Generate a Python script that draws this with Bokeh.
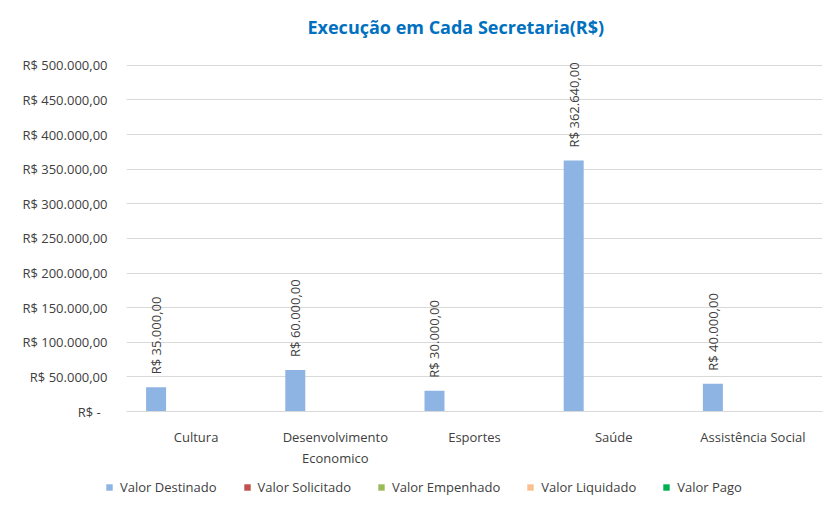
from math import pi
from bokeh.plotting import figure
from bokeh.layouts import column
from bokeh.models import ColumnDataSource, FactorRange, Range1d, FixedTicker, Legend, LegendItem
from bokeh.transform import dodge
from bokeh.core.properties import value
from bokeh.embed import file_html
from bokeh.resources import INLINE

categories = ["Cultura", "Desenvolvimento\nEconomico", "Esportes", "Saúde", "Assistência Social"]
series_names = ["Valor Destinado", "Valor Solicitado", "Valor Empenhado", "Valor Liquidado", "Valor Pago"]
valor_destinado = [35000, 60000, 30000, 362640, 40000]
valor_solicitado = [0, 0, 0, 0, 0]
valor_empenhado = [0, 0, 0, 0, 0]
valor_liquidado = [0, 0, 0, 0, 0]
valor_pago = [0, 0, 0, 0, 0]
destinado_labels = ["R$ 35.000,00", "R$ 60.000,00", "R$ 30.000,00", "R$ 362.640,00", "R$ 40.000,00"]
y_ticks = [0, 50000, 100000, 150000, 200000, 250000, 300000, 350000, 400000, 450000, 500000]
y_tick_labels = ["R$ -\u00a0\u00a0", "R$ 50.000,00", "R$ 100.000,00", "R$ 150.000,00", "R$ 200.000,00",
                 "R$ 250.000,00", "R$ 300.000,00", "R$ 350.000,00", "R$ 400.000,00", "R$ 450.000,00",
                 "R$ 500.000,00"]
colors = ["#8EB4E3", "#C0504D", "#9BBB59", "#FAC090", "#00B050"]

FONT = "Open Sans"
TXT = "#404040"

src = ColumnDataSource(dict(
    cat=categories,
    destinado=valor_destinado,
    solicitado=valor_solicitado,
    empenhado=valor_empenhado,
    liquidado=valor_liquidado,
    pago=valor_pago,
    lbl=destinado_labels,
))
cols = ["destinado", "solicitado", "empenhado", "liquidado", "pago"]

p = figure(x_range=FactorRange(*categories), y_range=Range1d(0, 525640),
           width=835, height=470, output_backend="svg", toolbar_location=None,
           min_border_left=126, min_border_right=13, min_border_top=47, min_border_bottom=54)
p.frame_align = False
p.outline_line_color = None
p.background_fill_color = "white"
p.border_fill_color = "white"

p.title.text = "Execução em Cada Secretaria(R$)"
p.title.align = "left"
p.title.offset = 181
p.title.standoff = 18
p.title.text_font = FONT
p.title.text_font_style = "bold"
p.title.text_font_size = "18px"
p.title.text_color = "#0070C0"

bw = 0.1437
offsets = [-2 * bw, -bw, 0, bw, 2 * bw]
for col, off, c in zip(cols, offsets, colors):
    p.vbar(x=dodge("cat", off, range=p.x_range), top=col, width=bw, source=src,
           fill_color=c, line_color=None)

p.text(x=dodge("cat", offsets[0], range=p.x_range), y="destinado", text="lbl", source=src,
       angle=pi / 2, text_align="left", text_baseline="middle", y_offset=-13,
       text_font=value(FONT), text_font_size="13px", text_color=TXT)

ticker = FixedTicker(ticks=y_ticks)
p.yaxis.ticker = ticker
p.yaxis.major_label_overrides = {t: l for t, l in zip(y_ticks, y_tick_labels)}
p.yaxis.axis_line_color = None
p.yaxis.major_tick_line_color = None
p.yaxis.minor_tick_line_color = None
p.yaxis.major_label_standoff = 13
p.yaxis.major_label_text_font = FONT
p.yaxis.major_label_text_font_size = "13px"
p.yaxis.major_label_text_color = TXT

p.ygrid.ticker = ticker
p.ygrid.grid_line_color = "#d9d9d9"
p.xgrid.grid_line_color = None

p.xaxis.axis_line_color = "#d9d9d9"
p.xaxis.major_tick_line_color = None
p.xaxis.minor_tick_line_color = None
p.xaxis.major_label_standoff = 10
p.xaxis.major_label_text_font = FONT
p.xaxis.major_label_text_font_size = "13px"
p.xaxis.major_label_text_color = TXT

# Legend strip (separate figure so the legend is not clipped by the main frame)
lg = figure(x_range=FactorRange(*categories), y_range=Range1d(0, 1),
            width=835, height=35, output_backend="svg", toolbar_location=None,
            x_axis_type=None, y_axis_type=None,
            min_border_left=0, min_border_right=0, min_border_top=0, min_border_bottom=0)
lg.frame_align = False
lg.outline_line_color = None
lg.grid.grid_line_color = None
lg_renderers = []
for off, c in zip(offsets, colors):
    # zero-height proxies: they only lend their colour to the legend entries
    r = lg.vbar(x=dodge("cat", off, range=lg.x_range), top=0, width=bw, source=src,
                fill_color=c, line_color=None)
    lg_renderers.append(r)

legend = Legend(items=[LegendItem(label=n, renderers=[r]) for n, r in zip(series_names, lg_renderers)],
                orientation="horizontal", location=(105, 9),
                glyph_width=8, glyph_height=8, label_standoff=7, spacing=26,
                label_text_font=FONT, label_text_font_size="13px", label_text_color=TXT,
                border_line_color=None, background_fill_alpha=0, padding=0, margin=0)
lg.add_layout(legend)

layout = column(p, lg, spacing=0)
open("out.html", "w").write(file_html(layout, INLINE))
